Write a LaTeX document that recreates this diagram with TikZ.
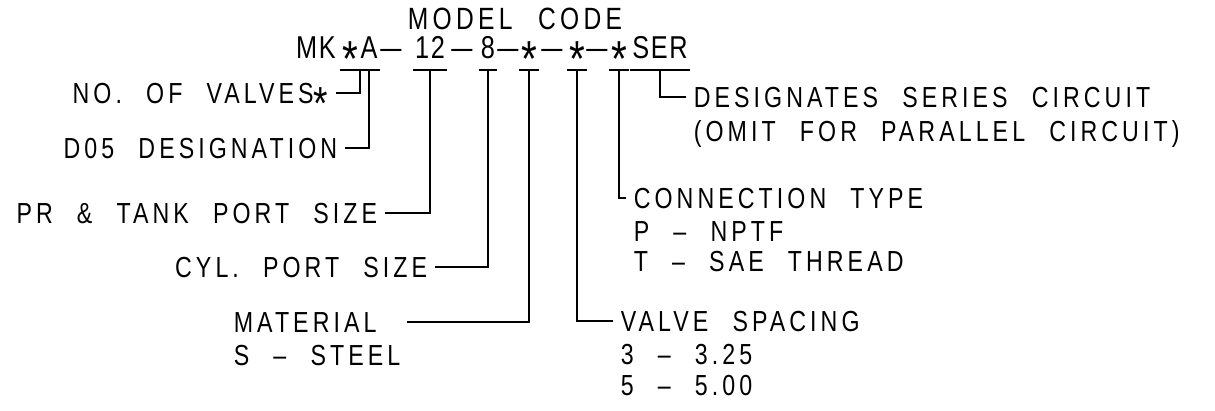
\documentclass[tikz,border=0pt]{standalone}
\usepackage{fontspec}
\usetikzlibrary{positioning}
\newfontfamily\labelfont{Liberation Sans}[FakeStretch=0.8,LetterSpace=14,WordSpace=2.3]
\newfontfamily\codefont{Liberation Sans}[FakeStretch=0.8,LetterSpace=5]
\newcommand\cstar{\raisebox{-0.57em}{\scalebox{1.6}{*}}}
\newcommand\cdash{\scalebox{1.5}[1]{–}}

\begin{document}
\begin{tikzpicture}[
    x=0.02cm, y=-0.02cm,
    heading/.style={
        font=\labelfont\fontsize{17.5}{19}\selectfont,
        inner sep=0pt,
        text depth=0pt
    },
    seg/.style={
        font=\codefont\fontsize{18}{19}\selectfont,
        anchor=base,
        inner xsep=1pt,
        inner ysep=0pt,
        text height=12.4pt,
        text depth=0.24cm
    },
    desc/.style={
        font=\labelfont\fontsize{16.5}{17.6}\selectfont,
        inner xsep=0.15cm,
        inner ysep=0.12cm,
        text height=11.8pt,
        text depth=0pt
    },
    opts/.style={
        font=\labelfont\fontsize{16.5}{17.6}\selectfont,
        align=left,
        anchor=north west,
        inner xsep=0.15cm,
        inner ysep=0.12cm
    },
    bar/.style={line width=1.1pt}
]
\useasboundingbox (0,0) rectangle (1215,410);

\node[heading] (modelcode) at (515,19) {MODEL CODE};

% THE CODE ITSELF
\node[seg] (mk) at (316,58) {MK};
\node[seg] (nv) at (350,58) {\cstar};
\node[seg] (a) at (369,58) {A};
\node[seg] (dash1) at (391,58) {\cdash};
\node[seg] (n12) at (430,58) {12};
\node[seg] (dash2) at (462,58) {\cdash};
\node[seg] (n8) at (488,58) {8};
\node[seg] (dash3) at (508,58) {\cdash};
\node[seg] (m1) at (529,58) {\cstar};
\node[seg] (dash4) at (552,58) {\cdash};
\node[seg] (m2) at (577,58) {\cstar};
\node[seg] (dash5) at (597,58) {\cdash};
\node[seg] (m3) at (619,58) {\cstar};
\node[seg] (ser) at (660,58) {SER};

% LEFT SIDE
\node[desc, anchor=east] (valves) at (336,93) {NO. OF VALVES\cstar};
\node[desc, anchor=east] (d05) at (345,148) {D05 DESIGNATION};
\node[desc, anchor=east] (prtank) at (385,213) {PR \& TANK PORT SIZE};
\node[desc, anchor=east] (cyl) at (435,267) {CYL. PORT SIZE};
\node[desc, anchor=west, text width=3.3cm] (material) at (226,322) {MATERIAL};
\node[opts] (steel) at (material.south west) {S – STEEL};

% RIGHT SIDE
\node[desc, anchor=west] (desig) at (686,97) {DESIGNATES SERIES CIRCUIT};
\node[opts] (omit) at (desig.south west) {(OMIT FOR PARALLEL CIRCUIT)};
\node[desc, anchor=west] (conn) at (626,198) {CONNECTION TYPE};
\node[opts] (conntype) at (conn.south west) {P – NPTF\\T – SAE THREAD};
\node[desc, anchor=west] (valve) at (613,321) {VALVE SPACING};
\node[opts] (spacing) at (valve.south west) {3 – 3.25\\5 – 5.00};

% BARS AND LEADERS
\draw[bar] (nv.south west) -- (nv.south east) |- (valves.east);
\draw[bar] (a.south west) -- (a.south east);
\draw[bar] (a.south) |- (d05.east);
\draw[bar] (n12.south west) -- (n12.south east);
\draw[bar] (n12.south) |- (prtank.east);
\draw[bar] (n8.south west) -- (n8.south east);
\draw[bar] (n8.south) |- (cyl.east);
\draw[bar] (m1.south west) -- (m1.south east);
\draw[bar] (m1.south) |- (material.east);
\draw[bar] (m2.south west) -- (m2.south east);
\draw[bar] (m2.south) |- (valve.west);
\draw[bar] (m3.south west) -- (m3.south east);
\draw[bar] (m3.south) |- (conn.west);
\draw[bar] (ser.south west) -- (ser.south east);
\draw[bar] (ser.south) |- (desig.west);

\end{tikzpicture}
\end{document}
